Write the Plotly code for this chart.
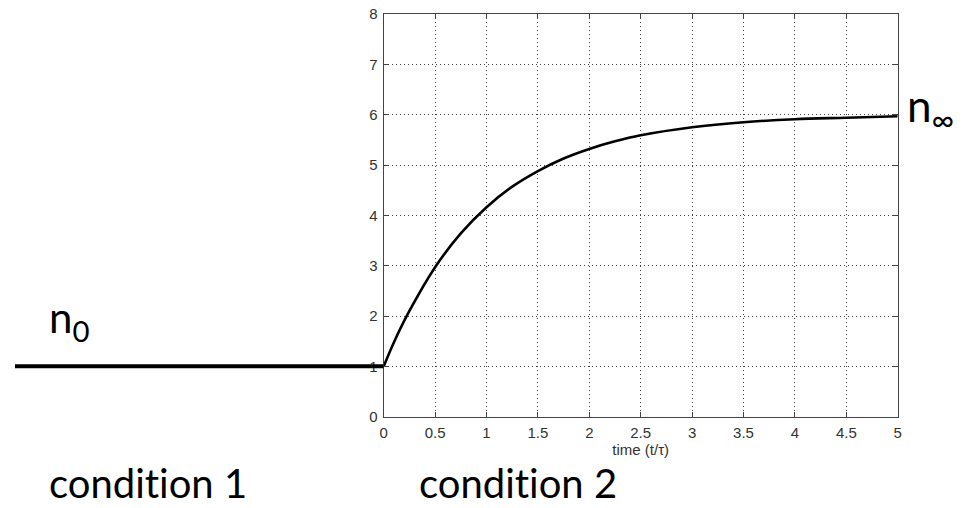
import plotly.graph_objects as go

# values
time_vals = [0, 0.1, 0.25, 0.5, 0.75, 1.0, 1.25, 1.5, 1.75, 2.0, 2.25, 2.5, 3.0, 3.5, 4.0, 4.5, 5.0]
n_vals = [1.0, 1.48, 2.1, 2.97, 3.64, 4.16, 4.57, 4.88, 5.13, 5.32, 5.47, 5.59, 5.75, 5.85, 5.91, 5.94, 5.97]
before_x = [-1, 0]
before_y = [1, 1]
x_ticks = [0, 0.5, 1, 1.5, 2, 2.5, 3, 3.5, 4, 4.5, 5]
y_ticks = [0, 1, 2, 3, 4, 5, 6, 7, 8]

W, H = 965, 508
x0, x1 = 383.7 / W, 897.7 / W
y0, y1 = 1 - 416.7 / H, 1 - 14 / H

fig = go.Figure()
fig.add_trace(go.Scatter(x=time_vals, y=n_vals, mode="lines",
                         line=dict(color="black", width=2.6, shape="spline"),
                         xaxis="x", yaxis="y", showlegend=False, hoverinfo="skip"))
fig.add_trace(go.Scatter(x=before_x, y=before_y, mode="lines",
                         line=dict(color="black", width=4),
                         xaxis="x2", yaxis="y2", showlegend=False, hoverinfo="skip",
                         cliponaxis=False))

tickfont = dict(family="Liberation Sans, Arial", size=15, color="#333")
common = dict(showline=True, linecolor="#444", linewidth=1.3, mirror="ticks",
              ticks="inside", ticklen=5, tickcolor="#444",
              showgrid=True, gridcolor="#444", griddash="1px,3px", gridwidth=1,
              zeroline=False, tickfont=tickfont, automargin=False)
fig.update_layout(
    width=W, height=H,
    margin=dict(l=0, r=0, t=0, b=0, autoexpand=False),
    paper_bgcolor="white", plot_bgcolor="white",
    xaxis=dict(domain=[x0, x1], range=[0, 5], tickvals=x_ticks,
               ticktext=[f"{v:g}" for v in x_ticks], ticklabelstandoff=2,
               title=dict(text="time (t/τ)",
                          font=dict(family="Liberation Sans, Arial", size=15, color="#333"),
                          standoff=4),
               **common),
    yaxis=dict(domain=[y0, y1], range=[0, 8], tickvals=y_ticks, ticklabelstandoff=2,
               **common),
    xaxis2=dict(domain=[15 / W, x0], range=[-1, 0], visible=False, anchor="y2"),
    yaxis2=dict(domain=[y0, y1], range=[0, 8], visible=False, anchor="x2"),
)

zw = "\u200c"
fam = "Lato, Open Sans, sans-serif"
fig.add_annotation(text="n<sub>0</sub>", x=47 / W, y=1 - 320 / H, xref="paper", yref="paper",
                   xanchor="left", yanchor="middle", showarrow=False,
                   font=dict(family=fam, size=42, color="black"))
fig.add_annotation(text="n<sub>∞</sub>", x=905 / W, y=1 - 108 / H, xref="paper", yref="paper",
                   xanchor="left", yanchor="middle", showarrow=False,
                   font=dict(family=fam, size=44, color="black"))
cond_font = dict(family=fam, size=40, color="black")
fig.add_annotation(text=f"condit{zw}ion 1", x=147.5 / W, y=1 - 483 / H, xref="paper", yref="paper",
                   xanchor="center", yanchor="middle", showarrow=False, font=cond_font)
fig.add_annotation(text=f"condit{zw}ion 2", x=517.5 / W, y=1 - 483 / H, xref="paper", yref="paper",
                   xanchor="center", yanchor="middle", showarrow=False, font=cond_font)

fig.write_html("out.html", config={"displayModeBar": False},
               post_script="document.body.style.margin='0';")
